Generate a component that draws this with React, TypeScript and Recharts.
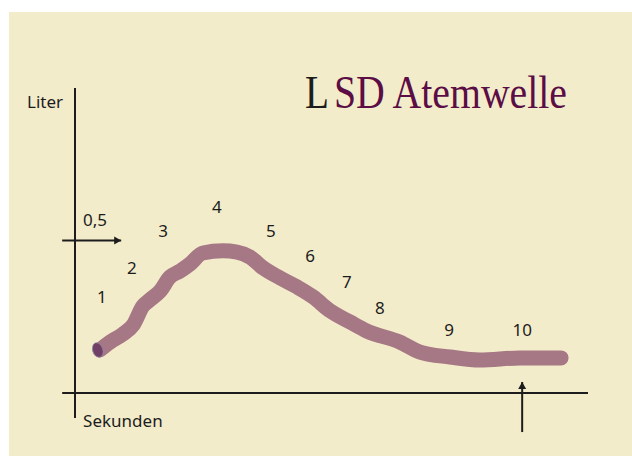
import { LineChart, Line, XAxis, YAxis, ReferenceLine, ReferenceDot } from 'recharts'

// Atemkurve: Sekunden / Liter
const sekunden = [0.58, 0.82, 1.12, 1.36, 1.59, 1.75, 1.99, 2.22, 2.46, 2.69, 2.99, 3.46, 3.79, 4.09, 4.4, 4.8, 5.19, 5.57, 5.97, 6.43, 6.83, 7.6, 8.07, 8.77, 9.47, 10.41, 11.37]
const liter = [0.141, 0.167, 0.193, 0.223, 0.285, 0.305, 0.334, 0.38, 0.4, 0.423, 0.459, 0.466, 0.462, 0.446, 0.41, 0.377, 0.348, 0.315, 0.269, 0.233, 0.203, 0.167, 0.134, 0.118, 0.108, 0.115, 0.115]

// Nummern entlang der Welle
const nummern = ['1', '2', '3', '4', '5', '6', '7', '8', '9', '10']
const nummerX = [0.63, 1.33, 2.06, 3.32, 4.58, 5.5, 6.36, 7.13, 8.75, 10.46]
const nummerY = [0.315, 0.41, 0.534, 0.61, 0.534, 0.452, 0.364, 0.279, 0.207, 0.207]

const markeLiter = 0.5
const markeSekunden = 10.46

const data = sekunden.map((s, i) => ({ sek: s, liter: liter[i] }))

const INK = '#1c1c1c'
const WAVE = '#a67785'
const PLUM = '#5b0d45'
const SANS = '"Noto Sans", sans-serif'
const SERIF = '"Liberation Serif", serif'

function arrow(dir: 'right' | 'up' | null) {
  return (p: any) => {
    const { x1, y1, x2, y2 } = p
    let head = null
    if (dir === 'right') head = <polygon points={`${x2},${y2} ${x2 - 7},${y2 - 4} ${x2 - 7},${y2 + 4}`} fill={INK} />
    if (dir === 'up') head = <polygon points={`${x2},${y2} ${x2 - 4},${y2 + 7} ${x2 + 4},${y2 + 7}`} fill={INK} />
    return (
      <g>
        <line x1={x1} y1={y1} x2={x2} y2={y2} stroke={INK} strokeWidth={2} />
        {head}
      </g>
    )
  }
}

function note(key: string, x: number, y: number, text: string) {
  return (
    <ReferenceDot
      key={key}
      x={x}
      y={y}
      r={0}
      fill="none"
      stroke="none"
      ifOverflow="visible"
      label={{
        content: (lp: any) => (
          <text
            x={lp.viewBox.x}
            y={lp.viewBox.y}
            textAnchor="middle"
            dominantBaseline="central"
            fontFamily={SANS}
            fontSize={17}
            fill={INK}
          >
            {text}
          </text>
        ),
      }}
    />
  )
}

function startCap(p: any) {
  if (p.index !== 0) return <g key={p.index} />
  return (
    <ellipse
      key="cap"
      cx={p.cx - 2}
      cy={p.cy}
      rx={5}
      ry={7.5}
      transform={`rotate(-20 ${p.cx - 2} ${p.cy})`}
      fill="#6f3f66"
      stroke="#8a8fa6"
      strokeWidth={0.6}
    />
  )
}

export default function App() {
  return (
    <div style={{ position: 'absolute', left: 9, top: 12, width: 623, height: 444, background: '#f3ecca' }}>
      <LineChart width={623} height={444} data={data} margin={{ top: 76, right: 44, bottom: 63, left: 66 }}>
        <XAxis dataKey="sek" type="number" domain={[0, 12]} hide />
        <YAxis type="number" domain={[0, 1]} hide />

        <ReferenceLine segment={[{ x: -0.3, y: 0 }, { x: 12, y: 0 }]} ifOverflow="visible" shape={arrow(null)} />
        <ReferenceLine segment={[{ x: 0, y: -0.082 }, { x: 0, y: 1 }]} ifOverflow="visible" shape={arrow(null)} />
        <ReferenceLine segment={[{ x: -0.3, y: markeLiter }, { x: 1.08, y: markeLiter }]} ifOverflow="visible" shape={arrow('right')} />
        <ReferenceLine segment={[{ x: markeSekunden, y: -0.128 }, { x: markeSekunden, y: 0.036 }]} ifOverflow="visible" shape={arrow('up')} />

        <Line
          dataKey="liter"
          type="monotone"
          stroke={WAVE}
          strokeWidth={15}
          strokeLinecap="round"
          strokeLinejoin="round"
          dot={startCap}
          activeDot={false}
          isAnimationActive={false}
        />

        {nummern.map((n, i) => note('n' + n, nummerX[i], nummerY[i], n))}
        {note('liter', -0.7, 0.957, 'Liter')}
        {note('sek', 1.12, -0.089, 'Sekunden')}
        {note('halb', 0.47, 0.568, '0,5')}

        <ReferenceDot
          x={5.38}
          y={0.934}
          r={0}
          fill="none"
          stroke="none"
          ifOverflow="visible"
          label={{
            content: (lp: any) => (
              <g>
                <text
                  x={lp.viewBox.x}
                  y={lp.viewBox.y}
                  fontFamily={SERIF}
                  fontSize={46}
                  textLength={24}
                  lengthAdjust="spacingAndGlyphs"
                  fill={INK}
                >
                  L
                </text>
                <text
                  x={lp.viewBox.x + 29}
                  y={lp.viewBox.y}
                  fontFamily={SERIF}
                  fontSize={46}
                  textLength={233}
                  lengthAdjust="spacingAndGlyphs"
                  fill={PLUM}
                >
                  SD Atemwelle
                </text>
              </g>
            ),
          }}
        />
      </LineChart>
    </div>
  )
}
